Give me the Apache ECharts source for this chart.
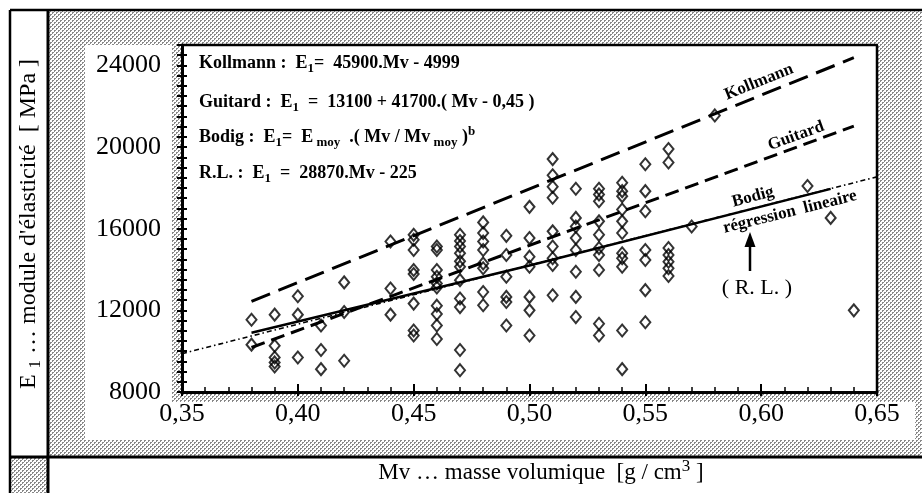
<!DOCTYPE html>
<html>
<head>
<meta charset="utf-8">
<script src="https://cdn.jsdelivr.net/npm/echarts@6/dist/echarts.min.js"></script>
<style>
  html, body { margin: 0; padding: 0; background: #fff; }
  #chart { width: 922px; height: 493px; }
</style>
</head>
<body>
<div id="chart"></div>
<script>
// Specimen densities Mv (g/cm3), grouped by level, with the measured modulus E1 (MPa)
const mvLevels = [0.38, 0.39, 0.40, 0.41, 0.42, 0.44, 0.45, 0.46, 0.47, 0.48, 0.49,
                  0.50, 0.51, 0.52, 0.53, 0.54, 0.55, 0.56, 0.57, 0.58, 0.62, 0.63, 0.64];
const e1ByLevel = [
  [11540, 10320],
  [11790, 10270, 9690, 9450, 9250],
  [12690, 11790, 9690],
  [11260, 10060, 9120],
  [13370, 11920, 9530],
  [15370, 13070, 11790],
  [15700, 15460, 14960, 13975, 13780, 12330, 11010, 10765],
  [15130, 14960, 13975, 13645, 13320, 13120, 12230, 11820, 11260, 10600],
  [15700, 15400, 15130, 14800, 14400, 14140, 13480, 12580, 12160, 10060, 9070],
  [16310, 15790, 15375, 14960, 14300, 14060, 12900, 12250],
  [15650, 14715, 13650, 12660, 12410, 11260],
  [17070, 15540, 14630, 14140, 12660, 12000, 10765],
  [19410, 18620, 18060, 17520, 15870, 15130, 14550, 14220, 12740],
  [17955, 16530, 16110, 15540, 14960, 13890, 12660, 11670],
  [17955, 17680, 17350, 16360, 15700, 15050, 14715, 13975, 11345, 10765],
  [18250, 17840, 17595, 16940, 16360, 15790, 14800, 14550, 14140, 11010, 9120],
  [19160, 17840, 16860, 14960, 14470, 12990, 11420],
  [19900, 19240, 15050, 14715, 14385, 14060, 13680],
  [16110],
  [21550],
  [18090],
  [16530],
  [12000]
];

// Published relations E1 = f(Mv)
const kollmann = { slope: 45900, intercept: -4999, from: 0.38, to: 0.64 };
const guitard = { base: 13100, slope: 41700, ref: 0.45, from: 0.38, to: 0.64 };
const regression = { slope: 28870, intercept: -225, from: 0.35, to: 0.65 };
// Bodig power law
const bodigMv = [0.38, 0.50, 0.63];
const bodigE1 = [10900, 14200, 17950];

// Axis ranges
const mvRange = [0.35, 0.65];
const e1Range = [8000, 25000];

const FONT = '"Liberation Serif", "Times New Roman", serif';

const points = [];
mvLevels.forEach((m, i) => e1ByLevel[i].forEach(e => points.push([m, e])));

const kollmannLine = [kollmann.from, kollmann.to].map(m => [m, kollmann.slope * m + kollmann.intercept]);
const guitardLine = [guitard.from, guitard.to].map(m => [m, guitard.base + guitard.slope * (m - guitard.ref)]);
const regressionLine = [regression.from, regression.to].map(m => [m, regression.slope * m + regression.intercept]);
const bodigLine = bodigMv.map((m, i) => [m, bodigE1[i]]);

// Halftone screen used for the figure's grey frame
function halftone() {
  const c = document.createElement('canvas');
  c.width = 4; c.height = 4;
  const g = c.getContext('2d');
  g.fillStyle = '#ffffff';
  g.fillRect(0, 0, 4, 4);
  g.fillStyle = '#888888';
  g.fillRect(0, 0, 2, 1); g.fillRect(0, 1, 1, 1);
  g.fillRect(2, 2, 2, 1); g.fillRect(2, 3, 1, 1);
  return c;
}
const screen = { image: halftone(), repeat: 'repeat' };

function rich(size, weight) {
  const base = { fontFamily: FONT, fontWeight: weight, fill: '#000' };
  return {
    n: Object.assign({ fontSize: size, lineHeight: size + 6 }, base),
    s: Object.assign({ fontSize: Math.round(size * 0.72), lineHeight: 12, verticalAlign: 'bottom' }, base),
    p: Object.assign({ fontSize: Math.round(size * 0.72), lineHeight: 12, verticalAlign: 'top' }, base)
  };
}

function label(text, x, y, size, weight, angle, align) {
  return {
    type: 'text', x: x, y: y, rotation: (angle || 0) * Math.PI / 180, z: 50,
    style: {
      text: text, align: align || 'center', verticalAlign: 'middle',
      fontFamily: FONT, fontSize: size, fontWeight: weight, fill: '#000',
      rich: rich(size, weight)
    }
  };
}

function hline(x1, x2, y, w) {
  return { type: 'line', z: 40, shape: { x1: x1, y1: y, x2: x2, y2: y }, style: { stroke: '#000', lineWidth: w } };
}
function vline(x, y1, y2, w) {
  return { type: 'line', z: 40, shape: { x1: x, y1: y1, x2: x, y2: y2 }, style: { stroke: '#000', lineWidth: w } };
}
function box(x, y, w, h, fill) {
  return { type: 'rect', z: -10, shape: { x: x, y: y, width: w, height: h }, style: { fill: fill } };
}

const chart = echarts.init(document.getElementById('chart'), null, { renderer: 'canvas' });

const plainAxis = {
  splitLine: { show: false },
  minorSplitLine: { show: false }
};

chart.setOption({
  animation: false,
  backgroundColor: '#fff',
  grid: { left: 182, top: 45, right: 45, bottom: 101, containLabel: false },
  xAxis: [
    Object.assign({
      type: 'value', min: mvRange[0], max: mvRange[1], interval: 0.05,
      axisLine: { show: true, lineStyle: { color: '#000', width: 3 } },
      axisTick: { show: true, inside: true, length: 8, lineStyle: { color: '#000', width: 2 } },
      minorTick: { show: true, splitNumber: 5, length: 5, lineStyle: { color: '#000', width: 1.5 } },
      axisLabel: {
        margin: 9, color: '#000', fontFamily: FONT, fontSize: 26,
        formatter: v => v.toFixed(2).replace('.', ',')
      }
    }, plainAxis),
    Object.assign({
      type: 'value', min: mvRange[0], max: mvRange[1], interval: 0.05, position: 'bottom',
      axisLine: { show: false },
      axisTick: { show: true, inside: false, length: 4, lineStyle: { color: '#000', width: 2 } },
      axisLabel: { show: false }
    }, plainAxis)
  ],
  yAxis: [
    Object.assign({
      type: 'value', min: e1Range[0], max: e1Range[1], interval: 4000,
      axisLine: { show: true, lineStyle: { color: '#000', width: 3 } },
      axisTick: { show: false },
      axisLabel: {
        margin: 21, color: '#000', fontFamily: FONT, fontSize: 26, showMaxLabel: false,
        formatter: v => String(v)
      }
    }, plainAxis),
    Object.assign({
      type: 'value', min: e1Range[0], max: e1Range[1], interval: 500, position: 'left',
      axisLine: { show: false },
      axisTick: { show: true, inside: true, length: 5, lineStyle: { color: '#000', width: 2 } },
      axisLabel: { show: false }
    }, plainAxis),
    Object.assign({
      type: 'value', min: e1Range[0], max: e1Range[1], interval: 500, position: 'left',
      axisLine: { show: false },
      axisTick: { show: true, inside: false, length: 5, lineStyle: { color: '#000', width: 2 } },
      axisLabel: { show: false }
    }, plainAxis)
  ],
  series: [
    {
      name: 'R.L.', type: 'line', data: regressionLine, symbol: 'none', silent: true, z: 2,
      lineStyle: { color: '#000', width: 1.6, type: [5, 3, 1.5, 3] }
    },
    {
      name: 'Bodig', type: 'line', data: bodigLine, symbol: 'none', silent: true, smooth: false, z: 2,
      lineStyle: { color: '#000', width: 2.5 }
    },
    {
      name: 'Guitard', type: 'line', data: guitardLine, symbol: 'none', silent: true, z: 2,
      lineStyle: { color: '#000', width: 3, type: [14, 7] }
    },
    {
      name: 'Kollmann', type: 'line', data: kollmannLine, symbol: 'none', silent: true, z: 2,
      lineStyle: { color: '#000', width: 3, type: [20, 9] }
    },
    {
      name: 'E1', type: 'scatter', data: points, symbol: 'diamond', symbolSize: [10, 12],
      silent: true, z: 3,
      itemStyle: { color: 'rgba(0,0,0,0)', borderColor: '#000', borderWidth: 2 }
    }
  ],
  graphic: [
    // grey screened frame and white panels
    box(48, 10, 874, 447, screen),
    box(10, 457, 38, 36, screen),
    box(85, 45, 87, 395, '#fff'),
    box(85, 402, 830, 38, '#fff'),
    box(182, 45, 695, 347, '#fff'),
    // outer rules
    hline(10, 922, 10, 2.5),
    vline(10, 10, 493, 2.5),
    vline(48, 10, 493, 3),
    hline(10, 922, 457, 3),
    // plot border (top / right)
    hline(181, 878, 45, 2.5),
    vline(877, 45, 392, 2.5),
    // axis titles
    label('{n|E }{s|1}{n| … module d\'élasticité  [ MPa ]}', 29, 224, 24, 'normal', 90),
    label('{n|Mv … masse volumique  [g / cm}{p|3}{n| ]}', 541, 473, 23, 'normal', 0),
    // equations
    label('{n|Kollmann :  E}{s|1}{n|=  45900.Mv - 4999}', 199, 63, 18, 'bold', 0, 'left'),
    label('{n|Guitard :  E}{s|1}{n|  =  13100 + 41700.( Mv - 0,45 )}', 199, 102, 18, 'bold', 0, 'left'),
    label('{n|Bodig :  E}{s|1}{n|=  E}{s| moy}{n|  .( Mv / Mv}{s| moy}{n| )}{p|b}', 199, 137, 18, 'bold', 0, 'left'),
    label('{n|R.L. :  E}{s|1}{n|  =  28870.Mv - 225}', 199, 173, 18, 'bold', 0, 'left'),
    // curve names
    label('{n|Kollmann}', 759, 82, 17, 'bold', 22),
    label('{n|Guitard}', 796, 136, 17, 'bold', 20),
    label('{n|Bodig}', 753, 197, 17, 'bold', 15),
    label('{n|régression  lineaire}', 790, 212, 17, 'bold', 14),
    label('{n|( R. L. )}', 757, 288, 22, 'normal', 0),
    // arrow pointing at the regression line
    { type: 'line', z: 40, shape: { x1: 750, y1: 271, x2: 750, y2: 244 }, style: { stroke: '#000', lineWidth: 2.5 } },
    { type: 'polygon', z: 40, shape: { points: [[744.5, 247], [755.5, 247], [750, 232]] }, style: { fill: '#000' } }
  ]
});
</script>
</body>
</html>
